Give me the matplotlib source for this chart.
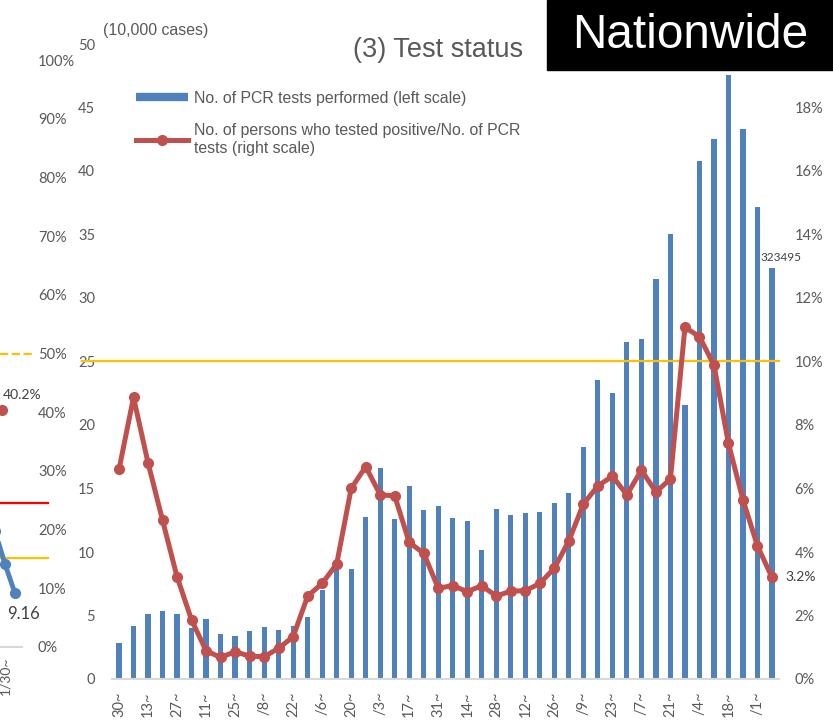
import matplotlib
matplotlib.use('Agg')
import matplotlib.pyplot as plt
from matplotlib.lines import Line2D
from matplotlib.ticker import FuncFormatter

# weekly data, 2020/3/30 ~ 2021/2/8
# tick labels as far as they are visible in the picture (bottom of the labels is cut off)
week_labels = ['30~', '13~', '27~', '11~', '25~', '/8~', '22~', '/6~', '20~', '/3~',
               '17~', '31~', '14~', '28~', '12~', '26~', '/9~', '23~', '/7~', '21~',
               '/4~', '18~', '/1~']
# PCR tests performed (10,000 cases)
pcr_tests = [2.83, 4.17, 5.10, 5.33, 5.15, 4.04, 4.72, 3.57, 3.36, 3.78,
             4.07, 3.86, 4.17, 4.88, 7.00, 9.05, 8.66, 12.76, 16.60, 12.57,
             15.20, 13.33, 13.65, 12.65, 12.47, 10.16, 13.36, 12.90, 13.10, 13.15,
             13.83, 14.65, 18.24, 23.54, 22.50, 26.54, 26.80, 31.50, 35.07, 21.57,
             40.76, 42.50, 47.56, 43.30, 37.20, 32.3495]
# positive rate (%)
pos_rate = [6.60, 8.87, 6.81, 5.00, 3.22, 1.86, 0.89, 0.68, 0.86, 0.72,
            0.70, 0.97, 1.33, 2.61, 3.01, 3.62, 6.00, 6.69, 5.80, 5.77,
            4.30, 3.96, 2.86, 2.94, 2.75, 2.94, 2.61, 2.77, 2.78, 3.01,
            3.49, 4.35, 5.51, 6.08, 6.39, 5.80, 6.58, 5.89, 6.30, 11.08,
            10.78, 9.89, 7.42, 5.64, 4.19, 3.20]
threshold_rate = 10

# left (cut off) panel
left_x = [-5, 5, 15]
left_blue = [19.8, 14.1, 9.16]
left_red_x = [2]
left_red = [40.4]
left_lines = [(50, '#FFC000', '--', 35), (24.6, '#FF0000', '-', 48), (15.2, '#FFC000', '-', 48)]

BLUE = '#4F81BD'
RED = '#C0504D'
GRAY = '#595959'
TICKFONT = 'Lato'
TEXTFONT = 'Liberation Sans'

W, H = 833, 720
fig = plt.figure(figsize=(W / 100, H / 100), dpi=100)

def px(x0, y0, x1, y1):
    return [x0 / W, 1 - y1 / H, (x1 - x0) / W, (y1 - y0) / H]

# ---- left panel (only its right edge is visible)
ax0 = fig.add_axes(px(0, 60, 22, 647))
ax0.set_xlim(0, 22)
ax0.set_ylim(0, 100)
for s in ['top', 'left', 'right']:
    ax0.spines[s].set_visible(False)
ax0.spines['bottom'].set_color('#D9D9D9')
ax0.spines['bottom'].set_linewidth(1.5)
ax0.yaxis.tick_right()
ax0.set_yticks(range(0, 101, 10))
ax0.yaxis.set_major_formatter(FuncFormatter(lambda v, p: f'{v:.0f}%'))
ax0.tick_params(axis='y', length=0, pad=11.5, labelsize=10.5, labelcolor=GRAY)
ax0.set_xticks([5])
ax0.set_xticklabels(['1/30~'], rotation=90, fontname=TICKFONT)
ax0.tick_params(axis='x', length=0, pad=7, labelsize=10, labelcolor=GRAY)
for lab in ax0.get_yticklabels():
    lab.set_fontname(TICKFONT)
for yv, c, ls, xe in left_lines:
    ax0.plot([0, xe], [yv, yv], color=c, ls=ls, lw=1.6, clip_on=False)
ax0.plot(left_x, left_blue, color=BLUE, lw=3.5, marker='o', ms=7, clip_on=True)
ax0.plot(left_red_x, left_red, color=RED, lw=3.5, marker='o', ms=7, clip_on=True)
ax0.text(3, left_red[0] + 2.5, '40.2%', fontsize=10, color='#404040',
         fontname=TICKFONT, va='center', ha='left')
ax0.text(7, left_blue[-1] - 3.5, '9.16', fontsize=12, color='#404040',
         fontname=TICKFONT, va='center', ha='left', clip_on=False)

# ---- main chart
ax = fig.add_axes(px(111.75, 44, 779.25, 679))
x = list(range(len(pcr_tests)))
ax.bar(x, pcr_tests, width=0.36, color=BLUE, zorder=2)
ax.set_xlim(-0.5, len(x) - 0.5)
ax.set_ylim(0, 50)
ax.set_yticks(range(0, 51, 5))
ax.tick_params(axis='y', length=0, pad=12, labelsize=10.5, labelcolor=GRAY)
ax.set_xticks(x[::2])
ax.set_xticklabels(week_labels, rotation=90, va='top')
ax.tick_params(axis='x', length=0, pad=9, labelsize=10.5, labelcolor=GRAY)
for lab in ax.get_xticklabels() + ax.get_yticklabels():
    lab.set_fontname(TICKFONT)
for s in ['top', 'left', 'right']:
    ax.spines[s].set_visible(False)
ax.spines['bottom'].set_color('#D9D9D9')
ax.spines['bottom'].set_linewidth(1.5)
ax.text(len(x) - 0.4, pcr_tests[-1] + 0.87, f'{round(pcr_tests[-1] * 10000)}',
        fontsize=8.5, color='#404040', fontname=TICKFONT, ha='center', va='center')

ax2 = ax.twinx()
ax2.set_ylim(0, 20)
ax2.set_yticks(range(0, 19, 2))   # 20% sits behind the "Nationwide" box
ax2.yaxis.set_major_formatter(FuncFormatter(lambda v, p: f'{v:.0f}%'))
ax2.tick_params(axis='y', length=0, pad=11, labelsize=10.5, labelcolor=GRAY)
for lab in ax2.get_yticklabels():
    lab.set_fontname(TICKFONT)
for s in ax2.spines.values():
    s.set_visible(False)
ax2.plot([-2.55, len(x) - 0.5], [threshold_rate, threshold_rate],
         color='#FFC000', lw=1.6, clip_on=False, zorder=3)
ax2.plot(x, pos_rate, color=RED, lw=3.6, marker='o', ms=7, zorder=4)
ax2.text(len(x) - 0.1, pos_rate[-1], f'{pos_rate[-1]:.1f}%', fontsize=10,
         color='#404040', fontname=TICKFONT, ha='left', va='center')

# legend
handles = [Line2D([], [], color=BLUE, lw=6, solid_capstyle='butt'),
           Line2D([], [], color=RED, lw=3.6, marker='o', ms=7)]
labels = ['No. of PCR tests performed (left scale)',
          'No. of persons who tested positive/No. of PCR\ntests (right scale)']
leg = fig.legend(handles, labels, loc='upper left', bbox_to_anchor=(136 / W, 1 - 91 / H),
                 frameon=False, handlelength=3.3, handletextpad=0.35, labelspacing=1.1,
                 borderpad=0, borderaxespad=0, prop={'family': TEXTFONT, 'size': 11.4})
for t in leg.get_texts():
    t.set_color(GRAY)
    t.set_linespacing(1.2)

# titles
fig.text(103 / W, 1 - 30 / H, '(10,000 cases)', fontsize=11.4, color=GRAY,
         fontname=TEXTFONT, ha='left', va='center')
fig.text(523 / W, 1 - 50 / H, '(3) Test status', fontsize=19.5, color=GRAY,
         fontname=TEXTFONT, ha='right', va='center')
fig.patches.append(plt.Rectangle((547 / W, 1 - 70 / H), (W - 547) / W, 70 / H,
                                 transform=fig.transFigure, color='black', zorder=10))
fig.text(690 / W, 1 - 36 / H, 'Nationwide', fontsize=34.4, color='white',
         fontname=TEXTFONT, ha='center', va='center', zorder=11)

fig.savefig('out.png', dpi=100)
